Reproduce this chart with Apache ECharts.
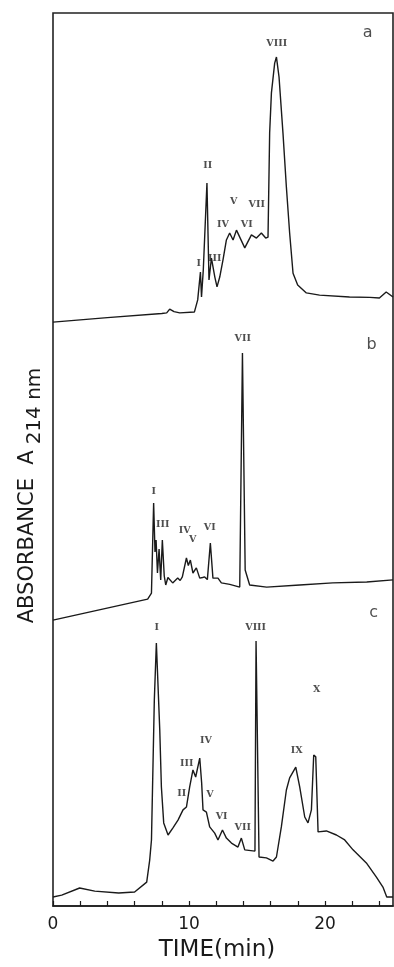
<!DOCTYPE html>
<html>
<head>
<meta charset="utf-8">
<script src="https://cdn.jsdelivr.net/npm/echarts@6/dist/echarts.min.js"></script>
<style>
  html, body { margin: 0; padding: 0; background: #fff; }
  #chart { width: 394px; height: 967px; }
</style>
</head>
<body>
<div id="chart"></div>
<script>
// 色谱图 a：时间 (min) / 吸光度 (相对单位)
const TIME_A = [0, 4, 8.0, 8.36, 8.58, 8.9, 9.32, 10.4, 10.64, 10.84, 10.92, 11.05, 11.32, 11.47, 11.65, 11.9, 12.06, 12.26, 12.5, 12.75, 12.99, 13.24, 13.49, 14.1, 14.59, 14.96, 15.32, 15.64, 15.81, 15.93, 16.06, 16.3, 16.43, 16.62, 16.91, 17.16, 17.4, 17.65, 17.99, 18.63, 19.6, 21.8, 23.3, 24.0, 24.5, 25];
const ABS_A = [2.5, 3.9, 5.2, 5.4, 6.6, 5.8, 5.4, 5.7, 9.5, 18.3, 10.4, 18.9, 46.4, 15.8, 22.7, 16.7, 13.6, 16.7, 22.1, 28.4, 30.6, 28.4, 31.5, 25.9, 30, 29, 30.6, 29, 29.3, 62.1, 74.8, 84.2, 86.1, 79.8, 62.1, 45.1, 30.6, 17.9, 14.2, 11.7, 11, 10.4, 10.3, 10.1, 12, 10.4];

// 色谱图 b
const TIME_B = [0, 6.96, 7.24, 7.40, 7.5, 7.58, 7.68, 7.8, 7.92, 8.04, 8.18, 8.29, 8.45, 8.58, 8.80, 9.17, 9.35, 9.51, 9.81, 9.95, 10.1, 10.29, 10.54, 10.79, 11.0, 11.15, 11.35, 11.57, 11.76, 12.13, 12.38, 13.0, 13.73, 13.93, 14.13, 14.46, 15.71, 18.14, 20.57, 23.07, 25];
const ABS_B = [3.3, 10.3, 12.3, 42.3, 26, 30, 19, 27, 16.7, 30, 18, 15, 17.5, 17.7, 15.7, 17.3, 16.5, 17.7, 24, 21.5, 23.3, 19, 20.7, 17.3, 17.5, 17.7, 16.8, 29, 17.3, 17.3, 15.7, 15.2, 14.3, 92.3, 20, 15, 14.3, 15, 15.7, 16, 16.7];

// 色谱图 c
const TIME_C = [0, 0.64, 1.96, 3.07, 4.83, 6.0, 6.89, 7.11, 7.24, 7.45, 7.6, 7.85, 7.97, 8.14, 8.46, 8.82, 9.19, 9.56, 9.81, 10.05, 10.29, 10.49, 10.79, 10.93, 11.03, 11.28, 11.52, 11.89, 12.13, 12.46, 12.75, 13.12, 13.6, 13.85, 14.1, 14.85, 14.93, 15.15, 15.69, 16.18, 16.43, 16.79, 17.16, 17.4, 17.85, 18.14, 18.51, 18.75, 19.0, 19.17, 19.32, 19.49, 20.1, 20.84, 21.45, 22.06, 23.04, 23.78, 24.26, 24.54, 25];
const ABS_C = [4.2, 4.8, 7.1, 6.1, 5.5, 5.8, 9.0, 16.1, 22.6, 67.7, 86.1, 58.1, 39.7, 28.1, 24.2, 26.5, 29.0, 32.3, 33.2, 39.7, 45.2, 42.9, 49.0, 41.0, 32.3, 31.6, 26.8, 24.8, 22.6, 25.8, 23.2, 21.6, 20.3, 23.2, 19.4, 19.0, 86.8, 17.1, 16.8, 15.8, 17.1, 26.8, 38.7, 42.6, 46.1, 39.7, 30.0, 28.1, 32.3, 50.0, 49.4, 25.2, 25.5, 24.2, 22.6, 19.4, 15.2, 10.6, 7.4, 4.2, 4.2];

// 峰标注（罗马数字）
const PEAK_TEXT_A = ["I", "II", "III", "IV", "V", "VI", "VII", "VIII"];
const PEAK_TIME_A = [10.71, 11.37, 11.89, 12.49, 13.29, 14.24, 14.98, 16.45];
const PEAK_ABS_A = [21.1, 52, 22.7, 33.4, 40.4, 33.4, 39.7, 90.5];

const PEAK_TEXT_B = ["I", "III", "IV", "V", "VI", "VII"];
const PEAK_TIME_B = [7.4, 8.07, 9.68, 10.27, 11.52, 13.95];
const PEAK_ABS_B = [46, 35.3, 33.3, 30, 34, 97.3];

const PEAK_TEXT_C = ["I", "II", "III", "IV", "V", "VI", "VII", "VIII", "IX", "X"];
const PEAK_TIME_C = [7.62, 9.46, 9.83, 11.24, 11.54, 12.4, 13.95, 14.9, 17.92, 19.39];
const PEAK_ABS_C = [91, 37.7, 47.4, 54.8, 37.4, 30, 26.5, 91, 51.6, 71];

// 面板字母 a / b / c
const PANEL_TAGS = ["a", "b", "c"];
const PANEL_TIME = [23.14, 23.43, 23.57];
const PANEL_ABS = [93.7, 95, 95.8];

const X_TICKS = [0, 10, 20];

const INK = "#1a1a1a";
const zip = (xs, ys) => xs.map((x, i) => [x, ys[i]]);

const chart = echarts.init(document.getElementById("chart"));

const hiddenX = (gridIndex) => ({
  type: "value", gridIndex, min: 0, max: 25, show: false,
});
const hiddenY = (gridIndex) => ({
  type: "value", gridIndex, min: 0, max: 100, show: false,
});

const traceSeries = (idx, data) => ({
  type: "line",
  xAxisIndex: idx,
  yAxisIndex: idx,
  data,
  showSymbol: false,
  smooth: false,
  lineStyle: { color: INK, width: 1.4 },
  silent: true,
});

const labelSeries = (idx, texts, times, values, style) => ({
  type: "scatter",
  xAxisIndex: idx,
  yAxisIndex: idx,
  clip: false,
  symbolSize: 1,
  itemStyle: { color: "rgba(0,0,0,0)" },
  data: times.map((t, i) => ({ value: [t, values[i]], name: texts[i] })),
  label: {
    show: true,
    position: "inside",
    formatter: (p) => p.name,
    ...style,
  },
  silent: true,
});

const peakStyle = { fontFamily: "DejaVu Serif", fontWeight: "bold", fontSize: 9.5, color: "#222" };
const tagStyle = { fontFamily: "DejaVu Sans", fontSize: 16, color: "#222" };

const option = {
  backgroundColor: "#fff",
  animation: false,
  grid: [
    // 外框 + 时间轴
    { left: 53, right: 1, top: 13, bottom: 57, show: true, borderColor: "#222", borderWidth: 1.6 },
    { left: 53, right: 1, top: 13, bottom: 637 },
    { left: 53, right: 1, top: 330, bottom: 337 },
    { left: 53, right: 1, top: 600, bottom: 57 },
  ],
  xAxis: [
    {
      type: "value",
      gridIndex: 0,
      min: 0,
      max: 25,
      interval: 2,
      name: "TIME(min)",
      nameLocation: "middle",
      nameGap: 33,
      nameTextStyle: { fontFamily: "DejaVu Sans", fontSize: 23, color: INK, padding: [0, 12, 0, 0] },
      axisLine: { show: true, lineStyle: { color: INK, width: 1.6 } },
      axisTick: { show: true, inside: true, length: 5, lineStyle: { color: INK, width: 1.2 } },
      axisLabel: {
        fontFamily: "DejaVu Sans",
        fontSize: 17,
        color: INK,
        margin: 10,
        showMaxLabel: false,
        formatter: (v) => (X_TICKS.includes(v) ? String(v) : ""),
      },
      splitLine: { show: false },
    },
    hiddenX(1),
    hiddenX(2),
    hiddenX(3),
  ],
  yAxis: [
    {
      type: "value",
      gridIndex: 0,
      min: 0,
      max: 1,
      name: "{t|ABSORBANCE  A}{s|214 nm}",
      nameLocation: "middle",
      nameRotate: 90,
      nameGap: 8,
      nameTextStyle: {
        padding: [0, 72, 0, 0],
        rich: {
          t: { fontFamily: "DejaVu Sans", fontSize: 21, lineHeight: 28, color: INK, verticalAlign: "top" },
          s: { fontFamily: "DejaVu Sans", fontSize: 20, lineHeight: 12, color: INK, verticalAlign: "bottom", padding: [0, 0, 0, 6] },
        },
      },
      axisLine: { show: false },
      axisTick: { show: false },
      axisLabel: { show: false },
      splitLine: { show: false },
    },
    hiddenY(1),
    hiddenY(2),
    hiddenY(3),
  ],
  series: [
    traceSeries(1, zip(TIME_A, ABS_A)),
    traceSeries(2, zip(TIME_B, ABS_B)),
    traceSeries(3, zip(TIME_C, ABS_C)),
    labelSeries(1, PEAK_TEXT_A, PEAK_TIME_A, PEAK_ABS_A, peakStyle),
    labelSeries(2, PEAK_TEXT_B, PEAK_TIME_B, PEAK_ABS_B, peakStyle),
    labelSeries(3, PEAK_TEXT_C, PEAK_TIME_C, PEAK_ABS_C, peakStyle),
    labelSeries(1, [PANEL_TAGS[0]], [PANEL_TIME[0]], [PANEL_ABS[0]], tagStyle),
    labelSeries(2, [PANEL_TAGS[1]], [PANEL_TIME[1]], [PANEL_ABS[1]], tagStyle),
    labelSeries(3, [PANEL_TAGS[2]], [PANEL_TIME[2]], [PANEL_ABS[2]], tagStyle),
  ],
};

chart.setOption(option);
</script>
</body>
</html>
